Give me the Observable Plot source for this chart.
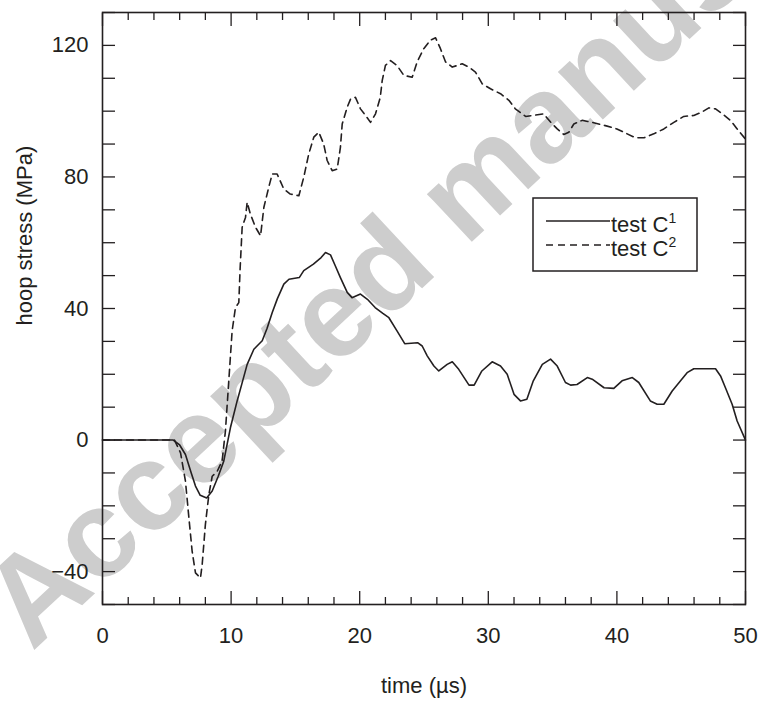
<!DOCTYPE html>
<html>
<head>
<meta charset="utf-8">
<script src="https://cdn.jsdelivr.net/npm/d3@7"></script>
<script src="https://cdn.jsdelivr.net/npm/@observablehq/plot@0.6"></script>
<style>
  html, body { margin: 0; padding: 0; background: #fff; }
  svg { display: block; }
</style>
</head>
<body>
<div id="chart"></div>
<script>
// ---- data ----
const c1Time = [0, 5.5, 6.0, 6.45, 6.9, 7.23, 7.6, 8.1, 8.53, 9.0, 9.43, 9.95, 10.47, 10.9, 11.25, 11.77, 12.42, 12.8, 13.2, 13.6, 14.1, 14.5, 15.3, 15.65, 16.4, 17.0, 17.34, 17.73, 18.1, 18.5, 19.03, 19.4, 20.06, 20.6, 21.2, 21.8, 22.27, 22.9, 23.5, 24.5, 24.86, 25.25, 25.77, 26.15, 26.8, 27.2, 27.7, 28.5, 28.9, 29.5, 30.3, 30.95, 31.47, 32.0, 32.5, 33.0, 33.5, 34.2, 34.84, 35.36, 36.0, 36.4, 36.9, 37.7, 38.08, 39.0, 39.76, 40.4, 41.2, 41.7, 42.6, 43.13, 43.65, 44.3, 44.95, 45.46, 45.98, 47.67, 48.06, 48.44, 48.96, 49.35, 50];
const c1Stress = [0, 0, -1.5, -4.4, -10, -14, -16.8, -17.6, -15.5, -11, -6.4, 3.8, 11.9, 18, 23, 27.6, 30.2, 34, 38.8, 43, 47.4, 48.9, 49.4, 51.5, 53.5, 55.5, 57, 56.3, 53, 49.4, 44.9, 43.3, 44.4, 42.8, 40.3, 38.5, 37.2, 33.2, 29.3, 29.6, 28.6, 25.6, 22.5, 21, 23, 23.8, 21.5, 16.7, 16.7, 21, 23.8, 22.5, 20, 13.9, 11.9, 12.4, 18, 23, 24.6, 22.5, 17.5, 16.7, 16.9, 19, 18.5, 15.9, 15.7, 18, 19, 17.5, 11.9, 10.9, 10.9, 14.9, 18, 20.5, 21.7, 21.7, 19.5, 15.9, 10.9, 5.8, 0];

const c2Time = [0, 5.6, 6.07, 6.45, 6.72, 6.97, 7.23, 7.62, 7.75, 8.0, 8.27, 8.53, 8.92, 9.3, 9.56, 9.82, 10.08, 10.34, 10.6, 10.7, 10.86, 11.12, 11.25, 11.5, 11.9, 12.29, 12.55, 12.93, 13.2, 13.58, 14.1, 14.6, 15.27, 15.65, 16.04, 16.43, 16.82, 17.2, 17.47, 17.86, 18.25, 18.5, 18.64, 19.03, 19.29, 19.67, 20.06, 20.45, 20.84, 21.23, 21.6, 21.75, 22.0, 22.4, 22.9, 23.43, 24.08, 24.47, 24.98, 25.5, 25.9, 26.28, 26.67, 27.2, 27.97, 28.48, 29.0, 29.53, 30.17, 30.95, 31.6, 32.1, 32.9, 33.5, 34.3, 34.84, 35.36, 35.87, 36.26, 36.65, 37.3, 38.08, 39.1, 40.0, 40.8, 41.45, 42.1, 42.87, 43.65, 44.43, 45.2, 45.98, 46.6, 47.15, 47.67, 48.2, 48.83, 49.35, 50];
const c2Stress = [0, 0, -3.9, -12.5, -23.7, -33.8, -40.4, -41.9, -37.9, -25.7, -16.6, -11, -9.5, -6.4, 2.8, 18, 33.2, 40.3, 41.8, 52, 64.7, 67.7, 72.3, 68.7, 64.7, 62.1, 70.8, 76.9, 80.9, 80.9, 76.3, 74.8, 74.3, 79.9, 87, 92.1, 93.6, 90, 85, 81.9, 82.4, 89, 96.1, 101.2, 103.7, 104.2, 100.7, 98.7, 96.6, 99.2, 104.2, 109.3, 113.9, 115.4, 113.9, 110.9, 110.3, 115, 119, 121.6, 122.3, 119, 115, 113.4, 114.4, 113.4, 111.9, 108.3, 106.8, 105.3, 103.3, 100.7, 98.4, 98.7, 99.2, 96.7, 94.6, 92.9, 93.6, 96.1, 97.2, 96.6, 95.6, 94.6, 93.1, 91.9, 91.9, 93.1, 94.6, 96.6, 98.4, 98.7, 99.7, 101, 100.7, 99.2, 97.2, 94.6, 91.5];

const xTicks = [0, 10, 20, 30, 40, 50];
const xMinorTicks = [2, 4, 6, 8, 12, 14, 16, 18, 22, 24, 26, 28, 32, 34, 36, 38, 42, 44, 46, 48];
const yTicks = [-40, 0, 40, 80, 120];
const yMinorTicks = [-50, -40, -30, -20, -10, 0, 10, 20, 30, 40, 50, 60, 70, 80, 90, 100, 110, 120, 130];
const seriesNames = ["test C", "test C"];
const seriesSup = ["1", "2"];
const xLabel = "time (µs)";
const yLabel = "hoop stress (MPa)";

const c1 = c1Time.map((t, i) => ({t, v: c1Stress[i]}));
const c2 = c2Time.map((t, i) => ({t, v: c2Stress[i]}));

const ink = "#231f20";
const blank = () => "";
const tickOpts = {tickFormat: blank, label: null, strokeWidth: 1.3};

const svg = Plot.plot({
  width: 763,
  height: 708,
  marginLeft: 102,
  marginRight: 18,
  marginTop: 12,
  marginBottom: 104,
  style: {fontFamily: "'Liberation Sans', Arial, sans-serif", fontSize: "22px", color: ink, background: "#fff"},
  x: {domain: [0, 50]},
  y: {domain: [-50, 130]},
  marks: [
    // inward ticks
    Plot.axisX({anchor: "bottom", ticks: xTicks, tickSize: -13, ...tickOpts}),
    Plot.axisX({anchor: "bottom", ticks: xMinorTicks, tickSize: -7, ...tickOpts}),
    Plot.axisX({anchor: "top", ticks: xTicks, tickSize: -13, ...tickOpts}),
    Plot.axisX({anchor: "top", ticks: xMinorTicks, tickSize: -7, ...tickOpts}),
    Plot.axisY({anchor: "left", ticks: yMinorTicks, tickSize: -13, ...tickOpts}),
    Plot.axisY({anchor: "right", ticks: yMinorTicks, tickSize: -13, ...tickOpts}),
    // tick labels
    Plot.axisX({anchor: "bottom", ticks: xTicks, tickSize: 0, tickPadding: 23, label: null, fontSize: 22}),
    Plot.axisY({anchor: "left", ticks: yTicks, tickSize: 0, tickPadding: 14, label: null, fontSize: 22}),
    Plot.text([xLabel], {frameAnchor: "bottom", dy: 88, fontSize: 22, fill: ink}),
    Plot.text([yLabel], {frameAnchor: "left", dx: -78, dy: 17, rotate: -90, fontSize: 22, fill: ink}),
    // series
    Plot.line(c2, {x: "t", y: "v", stroke: ink, strokeWidth: 1.6, strokeDasharray: "7,5"}),
    Plot.line(c1, {x: "t", y: "v", stroke: ink, strokeWidth: 1.6}),
    Plot.frame({stroke: ink, strokeWidth: 1.6})
  ]
});

const s = d3.select(svg);
// watermark behind everything
s.insert("text", ":first-child")
  .attr("transform", "translate(32,652) rotate(-43)")
  .attr("text-anchor", "start")
  .attr("font-family", "'Liberation Sans', Arial, sans-serif")
  .attr("font-weight", "bold")
  .attr("font-size", 124)
  .attr("fill", "#cdcdcd")
  .text("Accepted manuscript");

// legend box
const lg = s.append("g").attr("font-family", "'Liberation Sans', Arial, sans-serif")
  .attr("fill", ink).attr("text-anchor", "start");
lg.append("rect").attr("x", 533).attr("y", 198).attr("width", 164).attr("height", 73)
  .attr("fill", "#fff").attr("stroke", ink).attr("stroke-width", 1.5);
const rows = [{y: 221, dash: null}, {y: 245, dash: "7,5"}];
rows.forEach((r, i) => {
  lg.append("line").attr("x1", 546).attr("x2", 610).attr("y1", r.y).attr("y2", r.y)
    .attr("stroke", ink).attr("stroke-width", 1.6).attr("stroke-dasharray", r.dash);
  const t = lg.append("text").attr("x", 611).attr("y", r.y + 11).attr("font-size", 22);
  t.append("tspan").text(seriesNames[i]);
  t.append("tspan").attr("font-size", 14).attr("dy", -9).text(seriesSup[i]);
});

document.getElementById("chart").appendChild(svg);
</script>
</body>
</html>
